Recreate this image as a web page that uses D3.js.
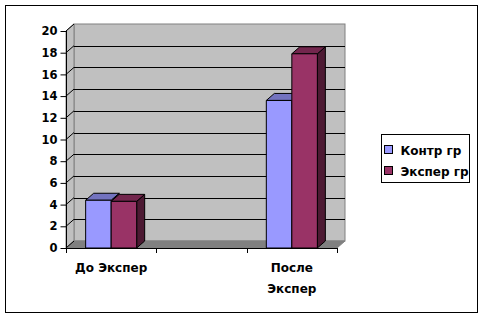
<!DOCTYPE html>
<html><head><meta charset="utf-8">
<script src="https://cdn.jsdelivr.net/npm/d3@7"></script>
<style>body{margin:0;background:#fff}svg{display:block}text{font-family:"DejaVu Sans",sans-serif;font-weight:bold;font-size:12px;fill:#000}</style>
</head><body><svg id="c" width="484" height="319"></svg>
<script>
const categories = ["До Экспер", "", "После Экспер"];
const series = ["Контр гр", "Экспер гр"];
const kontr = [4.4, null, 13.6];
const eksper = [4.3, null, 17.9];
const yTicks = [0, 2, 4, 6, 8, 10, 12, 14, 16, 18, 20];

const colors = {
  "Контр гр": {front: "#9999FF", top: "#7373BF", side: "#4D4D80"},
  "Экспер гр": {front: "#993366", top: "#73264D", side: "#4D1A33"}
};
const values = {"Контр гр": kontr, "Экспер гр": eksper};

const svg = d3.select("#c");
const DX = 8, DY = -7;
const x0 = 66, x1 = 337, yTop = 31, yBot = 248;

svg.append("rect").attr("x", 5.5).attr("y", 5.5).attr("width", 472).attr("height", 307)
  .attr("fill", "#fff").attr("stroke", "#000").attr("stroke-width", 1);

const y = d3.scaleLinear().domain([0, 20]).range([yBot, yTop]);
const xb = d3.scaleBand().domain(d3.range(categories.length)).range([x0, x1]).padding(0);
const xs = d3.scaleBand().domain(series).range([0, xb.bandwidth()]).paddingInner(0).paddingOuter(0.77);

// back wall
svg.append("rect").attr("x", x0 + DX).attr("y", y(20) + DY).attr("width", x1 - x0).attr("height", y(0) - y(20))
  .attr("fill", "#C0C0C0").attr("stroke", "#808080").attr("stroke-width", 1);
// left wall
svg.append("path").attr("d", `M${x0},${y(0)}L${x0},${y(20)}L${x0+DX},${y(20)+DY}L${x0+DX},${y(0)+DY}Z`)
  .attr("fill", "#C0C0C0").attr("stroke", "#808080").attr("stroke-width", 1);
// floor
svg.append("path").attr("d", `M${x0},${y(0)}L${x1},${y(0)}L${x1+DX},${y(0)+DY}L${x0+DX},${y(0)+DY}Z`)
  .attr("fill", "#808080").attr("stroke", "#808080");

// gridlines
const g = svg.append("g");
yTicks.filter(t => t > 0).forEach(t => {
  if (t < 20) g.append("line").attr("x1", x0 + DX).attr("x2", x1 + DX)
    .attr("y1", Math.round(y(t) + DY) + 0.5).attr("y2", Math.round(y(t) + DY) + 0.5)
    .attr("stroke", "#000").attr("stroke-width", 1);
});
yTicks.forEach(t => {
  g.append("line").attr("x1", x0).attr("y1", y(t)).attr("x2", x0 + DX).attr("y2", y(t) + DY)
    .attr("stroke", "#000").attr("stroke-width", 1);
});

// axes
const yAxis = d3.axisLeft(y).tickValues(yTicks).tickSize(6).tickPadding(3);
const ya = svg.append("g").attr("transform", `translate(${x0 + 0.5},0)`).call(yAxis);
ya.select(".domain").remove();
ya.append("line").attr("x1", 0).attr("x2", 0).attr("y1", y(20)).attr("y2", y(0)).attr("stroke", "#000");
ya.selectAll("text").style("font-size", "11.5px").style("font-family", "DejaVu Sans").style("font-weight", "bold");

// bars
categories.forEach((c, i) => {
  series.forEach(s => {
    const v = values[s][i];
    if (v == null) return;
    const bx = xb(i) + xs(s), bw = xs.bandwidth();
    const by = y(v), bb = y(0);
    const col = colors[s];
    const bg = svg.append("g").attr("stroke", "#000").attr("stroke-width", 1).attr("stroke-linejoin", "round");
    bg.append("path").attr("d", `M${bx+bw},${bb}L${bx+bw+DX},${bb+DY}L${bx+bw+DX},${by+DY}L${bx+bw},${by}Z`).attr("fill", col.side);
    bg.append("path").attr("d", `M${bx},${by}L${bx+DX},${by+DY}L${bx+bw+DX},${by+DY}L${bx+bw},${by}Z`).attr("fill", col.top);
    bg.append("rect").attr("x", bx).attr("y", by).attr("width", bw).attr("height", bb - by).attr("fill", col.front);
  });
});

// x axis
const xa = svg.append("g");
xa.append("line").attr("x1", x0).attr("x2", x1).attr("y1", y(0) + 0.5).attr("y2", y(0) + 0.5).attr("stroke", "#000");
d3.range(categories.length + 1).forEach(k => {
  const tx = Math.round(x0 + k * xb.step()) + 0.5;
  xa.append("line").attr("x1", tx).attr("x2", tx).attr("y1", y(0)).attr("y2", y(0) + 5).attr("stroke", "#000");
});
categories.forEach((c, i) => {
  const cx = xb(i) + xb.bandwidth() / 2;
  const words = c.length > 10 ? c.split(" ") : [c];
  words.forEach((w, j) => {
    xa.append("text").attr("x", cx).attr("y", 272 + j * 21).attr("text-anchor", "middle").text(w);
  });
});

// legend
const lg = svg.append("g").attr("transform", "translate(381.5,134.5)");
lg.append("rect").attr("width", 88).attr("height", 48).attr("fill", "#fff").attr("stroke", "#000");
series.forEach((s, i) => {
  lg.append("rect").attr("x", 3).attr("y", 11 + i * 21).attr("width", 8).attr("height", 8)
    .attr("fill", colors[s].front).attr("stroke", "#000");
  lg.append("text").attr("x", 19).attr("y", 20 + i * 21).text(s);
});
</script></body></html>
